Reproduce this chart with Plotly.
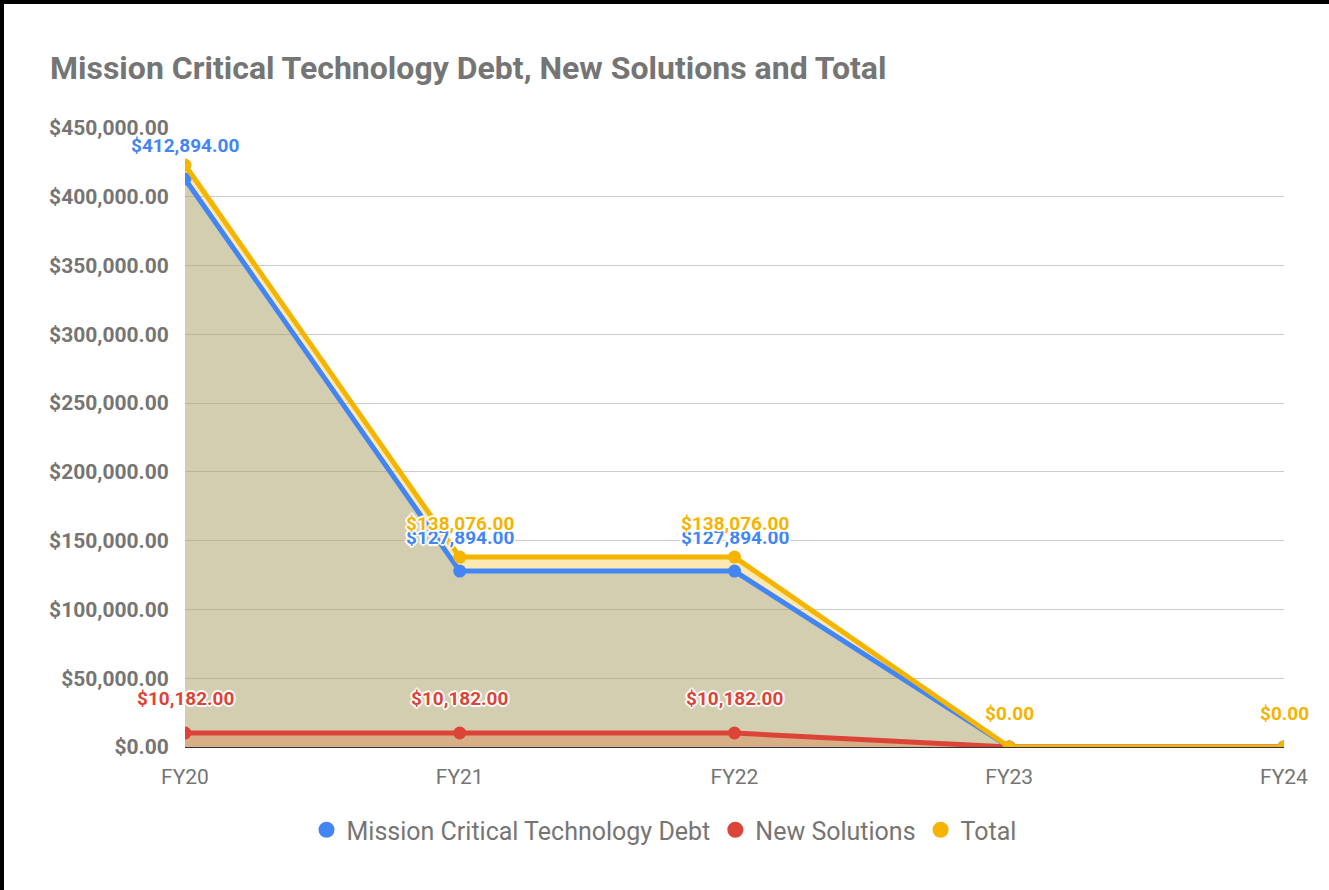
import plotly.graph_objects as go

categories = ["FY20", "FY21", "FY22", "FY23", "FY24"]
debt = [412894, 127894, 127894, 0, 0]
new_solutions = [10182, 10182, 10182, 0, 0]
total = [423076, 138076, 138076, 0, 0]
# which data labels are visible in the reference
debt_labels = [True, True, True, False, False]
ns_labels = [True, True, True, False, False]
total_labels = [False, True, True, True, True]

BLUE = "#4285F4"
RED = "#DB4437"
YELLOW = "#F4B400"
GRAY = "#757575"
FONT = "Roboto"

series = [
    ("Mission Critical Technology Debt", debt, BLUE, "rgba(66,133,244,0.3)", debt_labels),
    ("New Solutions", new_solutions, RED, "rgba(219,68,55,0.3)", ns_labels),
    ("Total", total, YELLOW, "rgba(244,180,0,0.3)", total_labels),
]

fig = go.Figure()

# area fills (below all lines)
for name, vals, col, fillc, _ in series:
    fig.add_trace(go.Scatter(
        x=categories, y=vals, mode="lines", line=dict(width=0, color=col),
        fill="tozeroy", fillcolor=fillc, showlegend=False, hoverinfo="skip"))

# lines with markers
for name, vals, col, fillc, _ in series:
    fig.add_trace(go.Scatter(
        x=categories, y=vals, mode="lines+markers", name=name,
        line=dict(width=5, color=col), marker=dict(size=13, color=col),
        showlegend=False))

# legend-only circle entries
for name, vals, col, fillc, _ in series:
    fig.add_trace(go.Scatter(
        x=[None], y=[None], mode="markers", name=name,
        marker=dict(size=16, color=col), showlegend=True))

halo = "1px 1px 1px white, -1px -1px 1px white, 1px -1px 1px white, -1px 1px 1px white, 0px 2px 1px white, 0px -2px 1px white, 2px 0px 1px white, -2px 0px 1px white"
annotations = []
for name, vals, col, fillc, show in series:
    for c, v, s in zip(categories, vals, show):
        if not s:
            continue
        annotations.append(dict(
            x=c, y=v, xref="x", yref="y", text=f"${v:,.2f}", showarrow=False,
            yshift=34, xanchor="center", yanchor="middle",
            font=dict(family=FONT, size=19, color=col, weight="bold", shadow=halo)))

fig.update_layout(
    width=1329, height=890,
    margin=dict(l=185, r=45, t=128, b=143),
    paper_bgcolor="white", plot_bgcolor="white",
    title=dict(
        text="<b>Mission Critical Technology Debt, New Solutions and Total</b>",
        x=50 / 1329, xref="container", xanchor="left",
        y=1 - 68 / 890, yref="container", yanchor="middle",
        font=dict(family=FONT, size=32, color=GRAY)),
    xaxis=dict(
        type="category", range=[0, 4], showgrid=False, showline=True,
        linecolor="#333333", linewidth=1, ticks="outside", ticklen=11,
        tickcolor="rgba(0,0,0,0)",
        tickfont=dict(family=FONT, size=21, color=GRAY)),
    yaxis=dict(
        range=[0, 450000], dtick=50000, tickformat="$,.2f",
        showgrid=True, gridcolor="#cccccc", gridwidth=1, zeroline=False,
        ticks="outside", ticklen=11, tickcolor="rgba(0,0,0,0)",
        tickfont=dict(family=FONT, size=21, color=GRAY, weight="bold")),
    legend=dict(
        orientation="h", x=(664 - 185) / 1099, xanchor="center",
        y=(747 - 830) / 619, yanchor="middle",
        font=dict(family=FONT, size=25, color=GRAY)),
    annotations=annotations,
    shapes=[
        dict(type="line", xref="paper", yref="paper",
             x0=(2 - 185) / 1099, x1=(2 - 185) / 1099,
             y0=(747 - 900) / 619, y1=(747 + 5) / 619,
             line=dict(color="black", width=4)),
        dict(type="line", xref="paper", yref="paper",
             x0=(0 - 185) / 1099, x1=(1340 - 185) / 1099,
             y0=(747 - 2) / 619, y1=(747 - 2) / 619,
             line=dict(color="black", width=4)),
    ],
)

fig.write_html("out.html", config={"displayModeBar": False},
               post_script="document.body.style.margin='0';")
